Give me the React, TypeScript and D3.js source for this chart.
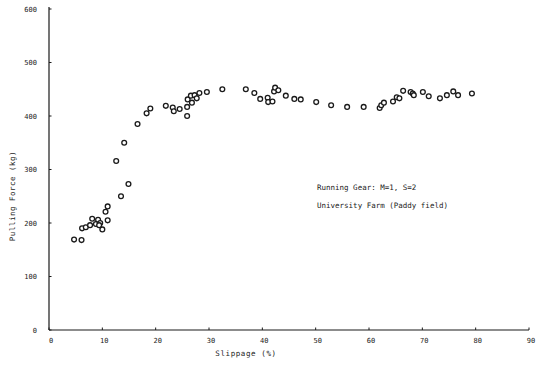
import React from "react";
import * as d3 from "d3";

const slippage = [
  4.7, 6.1, 6.2, 6.9, 7.7, 8.1, 8.8, 9.2, 9.6, 9.4, 10.0, 10.6, 11.0, 11.0,
  12.6, 13.5, 14.1, 14.9, 16.6, 18.3, 19.0, 21.9, 23.2, 23.4, 24.5, 25.9, 25.9,
  26.0, 26.8, 26.6, 27.3, 27.7, 28.2, 29.6, 32.5, 36.9, 38.5, 39.6, 41.0, 41.1,
  41.9, 42.2, 42.4, 43.0, 44.4, 46.0, 47.2, 50.1, 52.9, 55.9, 59.0, 62.0, 62.3,
  62.8, 64.5, 65.2, 65.7, 66.4, 67.8, 68.2, 68.4, 70.1, 71.2, 73.3, 74.6, 75.8,
  76.7, 79.3,
];
const pullingForce = [
  169, 168, 190, 192, 196, 208, 198, 206, 200, 196, 188, 221, 231, 205,
  316, 250, 350, 273, 385, 405, 414, 419, 416, 409, 413, 400, 417,
  431, 425, 438, 439, 433, 443, 445, 450, 450, 443, 432, 434, 426,
  427, 446, 453, 448, 438, 432, 431, 426, 420, 417, 417, 415, 420,
  425, 427, 435, 433, 447, 445, 442, 439, 445, 437, 433, 439, 446,
  439, 442,
];
const xTicks = [0, 10, 20, 30, 40, 50, 60, 70, 80, 90];
const yTicks = [0, 100, 200, 300, 400, 500, 600];
const xTitle = "Slippage (%)";
const yTitle = "Pulling Force (kg)";
const notes = ["Running Gear: M=1, S=2", "University Farm (Paddy field)"];

const W = 539;
const H = 366;
const FONT = "'DejaVu Sans Mono', 'Liberation Mono', monospace";
const INK = "#1a1a1a";

export default function App() {
  const x = d3.scaleLinear().domain([0, 90]).range([49, 529]);
  const y = d3.scaleLinear().domain([0, 600]).range([330, 9]);
  const pts = slippage.map((s, i) => ({ s, f: pullingForce[i] }));

  return (
    <div style={{ position: "fixed", left: 0, top: 0, background: "#fff" }}>
      <svg width={W} height={H} style={{ display: "block" }}>
        <rect width={W} height={H} fill="#fff" />
        {/* axes */}
        <line x1={x(0)} x2={x(0)} y1={y(600) - 2} y2={y(0)} stroke={INK} strokeWidth={1.2} />
        <line x1={x(0)} x2={x(90)} y1={y(0)} y2={y(0)} stroke={INK} strokeWidth={1.2} />
        {yTicks.map((t) => (
          <g key={"y" + t}>
            <line x1={x(0)} x2={x(0) + 2.5} y1={y(t)} y2={y(t)} stroke={INK} strokeWidth={1} />
            <text
              x={37}
              y={y(t) + 2.5}
              textAnchor="end"
              fontFamily={FONT}
              fontSize={7}
              fill={INK}
            >
              {t}
            </text>
          </g>
        ))}
        {xTicks.map((t) => (
          <g key={"x" + t}>
            <line x1={x(t)} x2={x(t)} y1={y(0)} y2={y(0) - 2.5} stroke={INK} strokeWidth={1} />
            <text
              x={x(t) + 2}
              y={343}
              textAnchor="middle"
              fontFamily={FONT}
              fontSize={7}
              fill={INK}
            >
              {t}
            </text>
          </g>
        ))}
        <text
          x={246}
          y={356}
          textAnchor="middle"
          fontFamily={FONT}
          fontSize={7.5}
          letterSpacing={0.6}
          fill={INK}
        >
          {xTitle}
        </text>
        <text
          transform={`translate(15, 196) rotate(-90)`}
          textAnchor="middle"
          fontFamily={FONT}
          fontSize={7.5}
          letterSpacing={0.5}
          fill={INK}
        >
          {yTitle}
        </text>
        {notes.map((n, i) => (
          <text
            key={n}
            x={317}
            y={190 + i * 18}
            fontFamily={FONT}
            fontSize={7.5}
            fill={INK}
          >
            {n}
          </text>
        ))}
        {pts.map((p, i) => (
          <circle
            key={i}
            cx={x(p.s)}
            cy={y(p.f)}
            r={2.4}
            fill="#fff"
            stroke={INK}
            strokeWidth={1.3}
          />
        ))}
      </svg>
    </div>
  );
}
